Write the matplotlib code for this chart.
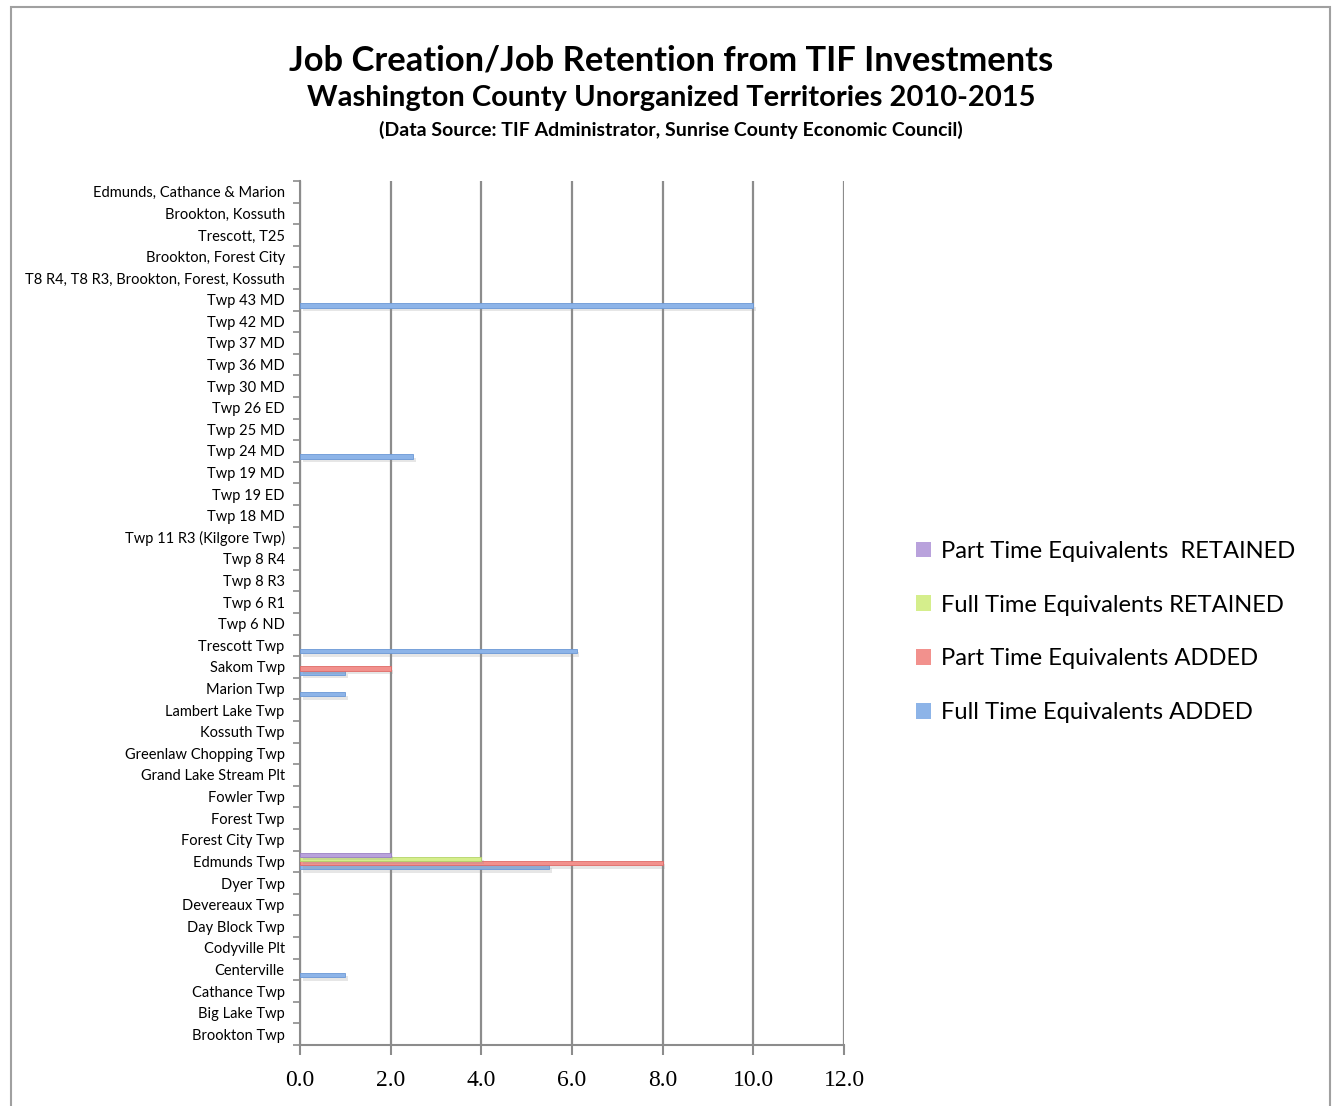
import matplotlib
matplotlib.use("Agg")
import matplotlib.pyplot as plt
import matplotlib.patheffects as pe
from matplotlib.patches import Rectangle
import numpy as np

# categories, bottom to top as they appear in the chart
places = ["Brookton Twp", "Big Lake Twp", "Cathance Twp", "Centerville", "Codyville Plt",
          "Day Block Twp", "Devereaux Twp", "Dyer Twp", "Edmunds Twp", "Forest City Twp",
          "Forest Twp", "Fowler Twp", "Grand Lake Stream Plt", "Greenlaw Chopping Twp",
          "Kossuth Twp", "Lambert Lake Twp", "Marion Twp", "Sakom Twp", "Trescott Twp",
          "Twp 6 ND", "Twp 6 R1", "Twp 8 R3", "Twp 8 R4", "Twp 11 R3 (Kilgore Twp)",
          "Twp 18 MD", "Twp 19 ED", "Twp 19 MD", "Twp 24 MD", "Twp 25 MD", "Twp 26 ED",
          "Twp 30 MD", "Twp 36 MD", "Twp 37 MD", "Twp 42 MD", "Twp 43 MD",
          "T8 R4, T8 R3, Brookton, Forest, Kossuth", "Brookton, Forest City",
          "Trescott, T25", "Brookton, Kossuth", "Edmunds, Cathance & Marion"]

# non-zero values only, everything else is 0
fte_added = {"Centerville": 1.0, "Edmunds Twp": 5.5, "Marion Twp": 1.0, "Sakom Twp": 1.0,
             "Trescott Twp": 6.1, "Twp 24 MD": 2.5, "Twp 43 MD": 10.0}
pte_added = {"Edmunds Twp": 8.0, "Sakom Twp": 2.0}
fte_retained = {"Edmunds Twp": 4.0}
pte_retained = {"Edmunds Twp": 2.0}

series = [("Full Time Equivalents ADDED", fte_added, "#8db4e8", "#6b98d6"),
          ("Part Time Equivalents ADDED", pte_added, "#f2918d", "#e06a66"),
          ("Full Time Equivalents RETAINED", fte_retained, "#d5ee8c", "#b4d468"),
          ("Part Time Equivalents  RETAINED", pte_retained, "#b9a2dc", "#9a80c4")]

W, H = 1335, 1106
fig = plt.figure(figsize=(W / 100, H / 100), dpi=100)
ax = fig.add_axes([300 / W, 1 - 1045 / H, 544 / W, 864 / H])

y = np.arange(len(places))
offsets = [-0.26, -0.07, 0.12, 0.31]
shadow = [pe.SimplePatchShadow(offset=(2, -2.5), shadow_rgbFace="#909090", alpha=0.22), pe.Normal()]
handles = []
for (name, vals, face, edge), off in zip(series, offsets):
    v = [vals.get(p, 0) for p in places]
    bars = ax.barh(y + off, v, height=0.2, color=face, edgecolor=edge, linewidth=0.6,
                   label=name, zorder=3)
    for b in bars:
        if b.get_width() > 0:
            b.set_path_effects(shadow)
        else:
            b.set_linewidth(0)
    handles.append(bars)

ax.set_xlim(0, 12)
ax.set_ylim(-0.5, len(places) - 0.5)
ax.set_xticks(np.arange(0, 13, 2))
ax.set_xticklabels([f"{t:.1f}" for t in np.arange(0, 13, 2)],
                   fontfamily="Liberation Serif", fontsize=17)
ax.set_yticks(y)
ax.set_yticklabels(places, fontfamily="Lato", fontsize=10.5)
ax.set_yticks(np.arange(-0.5, len(places), 1), minor=True)
ax.tick_params(axis="y", which="major", length=0, pad=11)
ax.tick_params(axis="y", which="minor", length=5, color="#8c8c8c", width=1.2)
ax.tick_params(axis="x", length=7, color="#8c8c8c", width=1.5, pad=11)
ax.grid(axis="x", color="#8c8c8c", linewidth=1.6, zorder=0)
for s in ["top", "right"]:
    ax.spines[s].set_visible(False)
for s in ["left", "bottom"]:
    ax.spines[s].set_color("#8c8c8c")
    ax.spines[s].set_linewidth(1.5)

fig.text(0.5025, 1 - 60 / H, "Job Creation/Job Retention from TIF Investments",
         ha="center", va="center", fontfamily="Lato", fontweight="bold", fontsize=24.8)
fig.text(0.5025, 1 - 98 / H, "Washington County Unorganized Territories 2010-2015",
         ha="center", va="center", fontfamily="Lato", fontweight="bold", fontsize=21)
fig.text(0.5025, 1 - 130 / H, "(Data Source: TIF Administrator, Sunrise County Economic Council)",
         ha="center", va="center", fontfamily="Lato", fontweight="bold", fontsize=14)

fig.legend(handles[::-1], [s[0] for s in series][::-1], loc="center left",
           bbox_to_anchor=(916 / W, 1 - 632 / H), frameon=False, borderpad=0,
           borderaxespad=0, handlelength=0.65, handleheight=0.65, handletextpad=0.4,
           labelspacing=1.38, prop={"family": "Lato", "size": 17.1})

fig.patches.append(Rectangle((11 / W, -0.02), 1319 / W, 1.02 - 7 / H, transform=fig.transFigure,
                             fill=False, edgecolor="#a0a0a0", linewidth=1.5))

fig.savefig("out.png", dpi=100)
